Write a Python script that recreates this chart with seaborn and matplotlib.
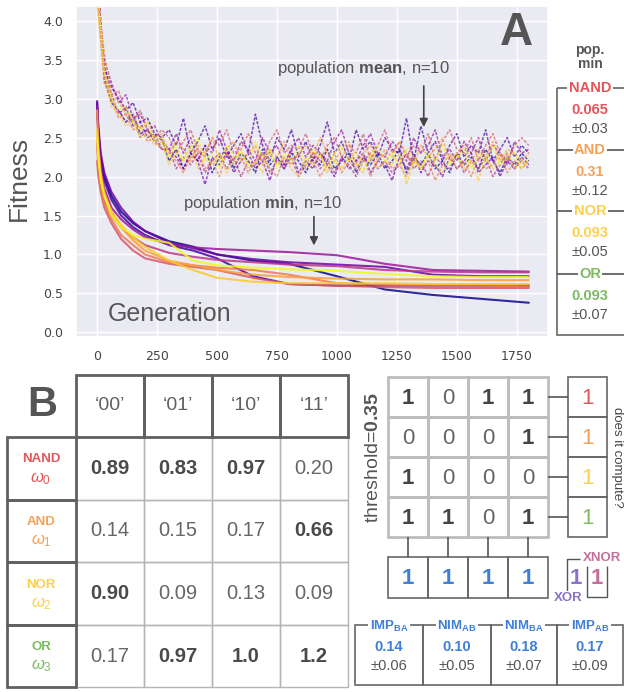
import numpy as np
import pandas as pd
import matplotlib
matplotlib.use("Agg")
import matplotlib.pyplot as plt
import seaborn as sns
from matplotlib.patches import Rectangle

# ---------------- panel A : fitness curves ----------------
gens_mean = np.arange(0, 1801, 30)
mean_runs = [
    [4.6, 3.25, 2.95, 2.85, 2.7, 2.8, 2.55, 2.6, 2.45, 2.5, 2.2, 2.35, 2.1, 2.3, 2.2, 2.4, 2.05, 2.25, 2.35, 2.1,
     2.3, 2.2, 2.05, 2.35, 2.15, 2.25, 2.1, 2.3, 2.2, 2.05, 2.25, 2.15, 2.35, 2.1, 2.2, 2.3, 2.05, 2.25, 2.15, 2.3,
     2.1, 2.2, 2.35, 2.05, 2.25, 2.15, 2.3, 2.1, 2.2, 2.05, 2.3, 2.15, 2.25, 2.1, 2.35, 2.2, 2.05, 2.25, 2.15, 2.3, 2.2],
    [4.6, 3.4, 3.15, 3.0, 2.85, 2.95, 2.7, 2.75, 2.55, 2.5, 2.6, 2.4, 2.75, 2.3, 2.45, 2.65, 2.35, 2.5, 2.25, 2.4,
     2.55, 2.3, 2.8, 2.4, 2.2, 2.5, 2.35, 2.6, 2.25, 2.45, 2.2, 2.4, 2.7, 2.3, 2.45, 2.2, 2.6, 2.35, 2.45, 2.25,
     2.5, 2.35, 2.3, 2.75, 2.2, 2.65, 2.3, 2.45, 2.2, 2.4, 2.55, 2.25, 2.4, 2.3, 2.6, 2.2, 2.35, 2.5, 2.25, 2.4, 2.3],
    [4.4, 3.4, 3.05, 2.8, 2.9, 2.65, 2.7, 2.5, 2.55, 2.35, 2.35, 2.25, 2.1, 2.3, 2.2, 1.9, 2.25, 2.15, 2.3, 2.05,
     2.2, 2.3, 2.1, 2.2, 1.95, 2.25, 2.15, 2.35, 2.05, 2.2, 2.1, 2.3, 2.15, 2.0, 2.25, 2.1, 2.2, 2.3, 2.05, 2.2,
     2.15, 1.95, 2.25, 2.1, 2.3, 2.05, 2.2, 2.15, 2.0, 2.25, 2.1, 2.2, 2.3, 2.05, 2.15, 2.25, 2.0, 2.2, 2.1, 2.25, 2.15],
    [4.4, 3.5, 3.2, 2.95, 3.05, 2.75, 2.8, 2.6, 2.65, 2.45, 2.35, 2.55, 2.3, 2.5, 2.2, 2.4, 2.3, 2.6, 2.35, 2.2,
     2.45, 2.35, 2.2, 2.5, 2.3, 2.4, 2.15, 2.35, 2.5, 2.25, 2.4, 2.3, 2.2, 2.45, 2.6, 2.3, 2.2, 2.4, 2.55, 2.3,
     2.25, 2.45, 2.35, 2.2, 2.5, 2.3, 2.4, 2.6, 2.25, 2.35, 2.2, 2.45, 2.3, 2.5, 2.2, 2.4, 2.3, 2.15, 2.45, 2.3, 2.35],
    [4.5, 3.35, 2.95, 2.85, 2.7, 2.75, 2.5, 2.6, 2.45, 2.35, 2.35, 2.1, 2.25, 2.15, 2.3, 2.05, 2.2, 2.3, 2.1, 2.25,
     2.0, 2.2, 2.15, 2.3, 2.05, 2.2, 2.1, 2.25, 2.0, 2.15, 2.3, 2.1, 2.2, 2.05, 2.25, 2.15, 2.0, 2.2, 2.3, 2.1,
     2.2, 2.05, 2.15, 2.3, 2.1, 2.2, 2.0, 2.25, 2.15, 2.1, 2.3, 2.05, 2.2, 2.1, 2.25, 2.0, 2.15, 2.3, 2.1, 2.2, 2.1],
    [4.7, 3.3, 3.05, 3.1, 2.8, 2.7, 2.85, 2.6, 2.5, 2.6, 2.5, 2.3, 2.45, 2.6, 2.35, 2.25, 2.5, 2.4, 2.6, 2.3,
     2.35, 2.55, 2.3, 2.2, 2.45, 2.6, 2.3, 2.4, 2.35, 2.55, 2.3, 2.2, 2.4, 2.5, 2.25, 2.4, 2.3, 2.55, 2.2, 2.4,
     2.6, 2.3, 2.45, 2.25, 2.4, 2.3, 2.55, 2.2, 2.45, 2.6, 2.35, 2.3, 2.5, 2.2, 2.4, 2.55, 2.3, 2.2, 2.4, 2.5, 2.4],
    [4.3, 3.2, 3.0, 2.75, 2.8, 2.6, 2.65, 2.45, 2.5, 2.35, 2.3, 2.2, 2.05, 2.25, 2.35, 2.1, 2.2, 2.0, 2.3, 2.15,
     2.25, 2.05, 2.2, 2.3, 2.1, 2.0, 2.25, 2.15, 2.3, 2.1, 2.2, 2.0, 2.15, 2.3, 2.05, 2.2, 2.1, 2.25, 2.0, 2.2,
     2.3, 2.1, 2.15, 2.0, 2.25, 2.1, 2.2, 1.95, 2.15, 2.3, 2.1, 2.2, 2.0, 2.25, 2.1, 2.15, 2.3, 2.05, 2.2, 2.1, 2.2],
    [4.3, 3.6, 3.05, 2.95, 2.8, 2.8, 2.6, 2.7, 2.5, 2.55, 2.3, 2.45, 2.35, 2.2, 2.4, 2.3, 2.5, 2.2, 2.35, 2.45,
     2.2, 2.3, 2.4, 2.15, 2.35, 2.25, 2.45, 2.2, 2.3, 2.4, 2.25, 2.5, 2.3, 2.2, 2.35, 2.45, 2.15, 2.3, 2.4, 2.2,
     2.35, 2.25, 2.45, 2.3, 2.15, 2.4, 2.25, 2.35, 2.5, 2.2, 2.3, 2.4, 2.2, 2.35, 2.25, 2.45, 2.2, 2.35, 2.3, 2.2, 2.3],
    [4.2, 3.3, 2.9, 2.8, 2.65, 2.7, 2.5, 2.55, 2.4, 2.45, 2.15, 2.3, 2.2, 2.4, 2.1, 2.25, 2.15, 2.3, 2.05, 2.2,
     2.35, 2.1, 2.2, 2.05, 2.3, 2.15, 2.25, 2.1, 2.0, 2.25, 2.15, 2.3, 2.05, 2.2, 2.1, 2.25, 2.15, 2.05, 2.3, 2.1,
     2.2, 2.15, 2.3, 1.9, 2.2, 2.1, 2.25, 2.15, 2.05, 2.2, 2.3, 2.1, 2.2, 1.95, 2.25, 2.1, 2.2, 2.3, 2.1, 2.2, 2.15],
    [4.5, 3.35, 3.0, 2.85, 2.9, 2.7, 2.6, 2.7, 2.45, 2.5, 2.25, 2.4, 2.2, 2.35, 2.5, 2.2, 2.3, 2.1, 2.4, 2.25,
     2.3, 2.15, 2.45, 2.25, 2.35, 2.1, 2.3, 2.2, 2.4, 2.15, 2.35, 2.25, 2.1, 2.3, 2.4, 2.2, 2.3, 2.1, 2.25, 2.4,
     2.2, 2.3, 2.15, 2.35, 2.25, 2.1, 2.3, 2.2, 2.4, 2.15, 2.25, 2.35, 2.1, 2.3, 2.2, 2.4, 2.15, 2.25, 2.3, 2.1, 2.25],
]

gens_min = [0, 5, 15, 30, 60, 100, 150, 200, 300, 400, 500, 650, 800, 1000, 1200, 1400, 1600, 1800]
min_runs = [
    [2.95, 2.6, 2.25, 2.0, 1.75, 1.55, 1.4, 1.3, 1.17, 1.1, 1.0, 0.92, 0.88, 0.72, 0.55, 0.48, 0.43, 0.38],
    [2.9, 2.55, 2.2, 1.95, 1.7, 1.5, 1.35, 1.25, 1.12, 1.05, 0.95, 0.72, 0.62, 0.6, 0.6, 0.6, 0.6, 0.6],
    [2.97, 2.65, 2.3, 2.05, 1.8, 1.6, 1.42, 1.3, 1.15, 1.08, 1.0, 0.94, 0.9, 0.87, 0.84, 0.74, 0.72, 0.72],
    [2.9, 2.5, 2.1, 1.85, 1.6, 1.45, 1.32, 1.22, 1.13, 1.09, 1.07, 1.05, 1.03, 0.99, 0.88, 0.8, 0.79, 0.78],
    [2.5, 2.2, 1.9, 1.7, 1.5, 1.35, 1.22, 1.12, 1.02, 0.97, 0.93, 0.9, 0.87, 0.85, 0.8, 0.78, 0.77, 0.77],
    [2.2, 2.0, 1.8, 1.6, 1.4, 1.2, 1.05, 0.95, 0.88, 0.84, 0.8, 0.7, 0.62, 0.6, 0.58, 0.57, 0.57, 0.57],
    [2.4, 2.1, 1.85, 1.65, 1.45, 1.25, 1.12, 1.0, 0.9, 0.86, 0.83, 0.8, 0.74, 0.63, 0.61, 0.6, 0.6, 0.59],
    [2.85, 2.4, 2.05, 1.8, 1.55, 1.35, 1.18, 1.05, 0.92, 0.86, 0.8, 0.74, 0.71, 0.69, 0.68, 0.68, 0.67, 0.67],
    [2.6, 2.3, 2.0, 1.75, 1.55, 1.38, 1.22, 1.1, 0.92, 0.8, 0.7, 0.65, 0.63, 0.63, 0.63, 0.62, 0.62, 0.62],
    [2.5, 2.25, 1.95, 1.75, 1.5, 1.35, 1.25, 1.2, 1.15, 0.92, 0.86, 0.83, 0.81, 0.79, 0.75, 0.72, 0.71, 0.71],
]

gate_names = ["NAND", "AND", "NOR", "OR"]
gate_colors = ["#e0575c", "#f4a259", "#fccf4d", "#7dbb62"]
popmin_vals = ["0.065", "0.31", "0.093", "0.093"]
popmin_sd = ["±0.03", "±0.12", "±0.05", "±0.07"]

# ---------------- panel B : weights table ----------------
inputs = ["‘00’", "‘01’", "‘10’", "‘11’"]
weights = [[0.89, 0.83, 0.97, 0.20],
           [0.14, 0.15, 0.17, 0.66],
           [0.90, 0.09, 0.13, 0.09],
           [0.17, 0.97, 1.0, 1.2]]
weight_text = [["0.89", "0.83", "0.97", "0.20"],
               ["0.14", "0.15", "0.17", "0.66"],
               ["0.90", "0.09", "0.13", "0.09"],
               ["0.17", "0.97", "1.0", "1.2"]]
omegas = [r"$\omega_0$", r"$\omega_1$", r"$\omega_2$", r"$\omega_3$"]
threshold = 0.35
bits = [[1, 0, 1, 1], [0, 0, 0, 1], [1, 0, 0, 0], [1, 1, 0, 1]]
computes = [1, 1, 1, 1]
col_bits = [1, 1, 1, 1]
xor_bits = [1, 1]
blue = "#3f7fd9"
imp_names = [r"IMP$_{\mathbf{BA}}$", r"NIM$_{\mathbf{AB}}$", r"NIM$_{\mathbf{BA}}$", r"IMP$_{\mathbf{AB}}$"]
imp_vals = ["0.14", "0.10", "0.18", "0.17"]
imp_sd = ["±0.06", "±0.05", "±0.07", "±0.09"]

GRAY = "#555555"

sns.set_theme(style="darkgrid")
plt.rcParams["font.family"] = ["Liberation Sans", "DejaVu Sans"]
plt.rcParams["mathtext.fontset"] = "custom"
plt.rcParams["mathtext.rm"] = "Liberation Sans"
plt.rcParams["mathtext.it"] = "Liberation Sans:italic"
plt.rcParams["mathtext.bf"] = "Liberation Sans:bold"

W, H = 624, 692
fig = plt.figure(figsize=(W / 100, H / 100), dpi=100)
fig.patch.set_facecolor("white")

ax = fig.add_axes([76 / W, 1 - 337 / H, 472 / W, 331 / H])

mean_df = pd.DataFrame(
    [(r, g, v) for r, run in enumerate(mean_runs) for g, v in zip(gens_mean, run)],
    columns=["run", "gen", "fitness"])
min_df = pd.DataFrame(
    [(r, g, v) for r, run in enumerate(min_runs) for g, v in zip(gens_min, run)],
    columns=["run", "gen", "fitness"])

sns.lineplot(data=mean_df, x="gen", y="fitness", hue="run", palette="plasma",
             estimator=None, legend=False, linestyle=(0, (2, 1)), lw=1.1, alpha=0.7, ax=ax)
sns.lineplot(data=min_df, x="gen", y="fitness", hue="run", palette="plasma",
             estimator=None, legend=False, lw=1.5, alpha=0.85, ax=ax)

ax.set_xlim(-88, 1880)
ax.set_ylim(-0.06, 4.19)
ax.set_yticks(np.arange(0, 4.01, 0.5))
ax.set_xticks(np.arange(0, 1751, 250))
ax.tick_params(labelsize=9, colors="#444444")
for lab in ax.get_xticklabels() + ax.get_yticklabels():
    lab.set_family("DejaVu Sans")
ax.set_xlabel("")
ax.set_ylabel("Fitness", fontsize=19, color=GRAY)
ax.yaxis.set_label_coords(-0.095, 0.48)

ax.text(46, 0.15, "Generation", fontsize=18, color=GRAY, ha="left", va="baseline")
ax.annotate("", xy=(1362, 2.6), xytext=(1362, 3.2),
            arrowprops=dict(arrowstyle="-|>", color="#444444", lw=1.2))
ax.text(1110, 3.33, r"population $\mathbf{mean}$, n=10", fontsize=12, color=GRAY,
        ha="center", va="baseline")
ax.annotate("", xy=(904, 1.08), xytext=(904, 1.52),
            arrowprops=dict(arrowstyle="-|>", color="#444444", lw=1.2))
ax.text(690, 1.6, r"population $\mathbf{min}$, n=10", fontsize=12, color=GRAY,
        ha="center", va="baseline")

# ---------------- overlay in pixel coordinates ----------------
ov = fig.add_axes([0, 0, 1, 1])
ov.set_xlim(0, W)
ov.set_ylim(H, 0)
ov.axis("off")


def box(x0, y0, x1, y1, ec="#666666", lw=1.2):
    ov.add_patch(Rectangle((x0, y0), x1 - x0, y1 - y0, fill=False, ec=ec, lw=lw))


def line(xs, ys, c="#555555", lw=1.2):
    ov.plot(xs, ys, color=c, lw=lw, solid_capstyle="butt")


def label(x, y, s, **kw):
    kw.setdefault("ha", "center")
    kw.setdefault("va", "center")
    kw.setdefault("color", GRAY)
    ov.text(x, y, s, **kw)


white_bg = dict(facecolor="white", edgecolor="none", pad=1)

label(516, 45, "A", fontsize=33, fontweight="bold", va="baseline")

# pop. min legend
label(590, 57, "pop.\nmin", fontsize=10, fontweight="bold", linespacing=1.05)
box(557, 88, 640, 335, lw=1.2)
sec_y = [88, 150, 211, 274]
for i, name in enumerate(gate_names):
    y = sec_y[i]
    if i > 0:
        line([557, 640], [y, y])
    label(590, y, name, fontsize=10.5, fontweight="bold", color=gate_colors[i], bbox=white_bg)
    label(590, y + 22, popmin_vals[i], fontsize=10.5, fontweight="bold", color=gate_colors[i])
    label(590, y + 41, popmin_sd[i], fontsize=10.5)

# panel B table
label(42, 405, "B", fontsize=30, fontweight="bold")
col_x = [76, 144, 212, 280, 348]
row_y = [437, 500, 562, 625, 687]
for i in range(4):
    for j in range(4):
        box(col_x[j], row_y[i], col_x[j + 1], row_y[i + 1], ec="#b5b5b5", lw=1.0)
        val = weights[i][j]
        bold = val > threshold
        label((col_x[j] + col_x[j + 1]) / 2, (row_y[i] + row_y[i + 1]) / 2, weight_text[i][j],
              fontsize=14.5, fontweight="bold" if bold else "normal",
              color="#4a4a4a" if bold else "#666666")
for j in range(4):
    box(col_x[j], 375, col_x[j + 1], 437, ec="#606060", lw=2)
    label((col_x[j] + col_x[j + 1]) / 2, 406, inputs[j], fontsize=14, color="#606060")
for i in range(4):
    box(7, row_y[i], 76, row_y[i + 1], ec="#606060", lw=2)
    yc = (row_y[i] + row_y[i + 1]) / 2
    label(41, yc - 9, gate_names[i], fontsize=9.5, fontweight="bold", color=gate_colors[i])
    label(41, yc + 10, omegas[i], fontsize=12, color=gate_colors[i])

# threshold grid
gx = [388, 428, 468, 508, 548]
gy = [377, 417, 457, 497, 537]
for i in range(4):
    for j in range(4):
        box(gx[j], gy[i], gx[j + 1], gy[i + 1], ec="#bdbdbd", lw=2)
        b = bits[i][j]
        label((gx[j] + gx[j + 1]) / 2, (gy[i] + gy[i + 1]) / 2 + 1, str(b), fontsize=16,
              fontweight="bold" if b else "normal", color="#444444" if b else "#666666")
label(374, 457, r"threshold=$\mathbf{0.35}$", fontsize=14, rotation=90, color="#555555")

for i in range(4):
    yc = (gy[i] + gy[i + 1]) / 2
    line([548, 568], [yc, yc])
    box(568, gy[i], 607, gy[i + 1], ec="#666666", lw=1.2)
    label(587.5, yc + 1, str(computes[i]), fontsize=16, color=gate_colors[i])
label(617, 457, "does it compute?", fontsize=9.5, rotation=-90, color="#444444")

for j in range(4):
    xc = (gx[j] + gx[j + 1]) / 2
    line([xc, xc], [537, 557])
    box(gx[j], 557, gx[j + 1], 598, ec="#666666", lw=1.2)
    label(xc, 578, str(col_bits[j]), fontsize=16, fontweight="bold", color=blue)

# XOR / XNOR
label(576, 578, str(xor_bits[0]), fontsize=16, fontweight="bold", color="#8a72c9")
label(597, 578, str(xor_bits[1]), fontsize=16, fontweight="bold", color="#c4709b")
line([567, 567, 580], [591, 559, 559], lw=1)
line([587, 587, 607, 607], [566, 597, 597, 566], lw=1)
label(602, 558, "XNOR", fontsize=9.5, fontweight="bold", color="#c4709b", bbox=white_bg)
label(568, 598, "XOR", fontsize=9.5, fontweight="bold", color="#8a72c9", bbox=white_bg)

# implication boxes
ix = [355, 423, 491, 557, 623]
for j in range(4):
    box(ix[j], 625, ix[j + 1], 685, ec="#666666", lw=1.2)
for j in range(4):
    xc = (ix[j] + ix[j + 1]) / 2
    label(xc, 626, imp_names[j], fontsize=9.5, fontweight="bold", color=blue, bbox=white_bg)
    label(xc, 647, imp_vals[j], fontsize=10.5, fontweight="bold", color=blue)
    label(xc, 666, imp_sd[j], fontsize=10.5)

fig.savefig("out.png", dpi=100, facecolor="white")
